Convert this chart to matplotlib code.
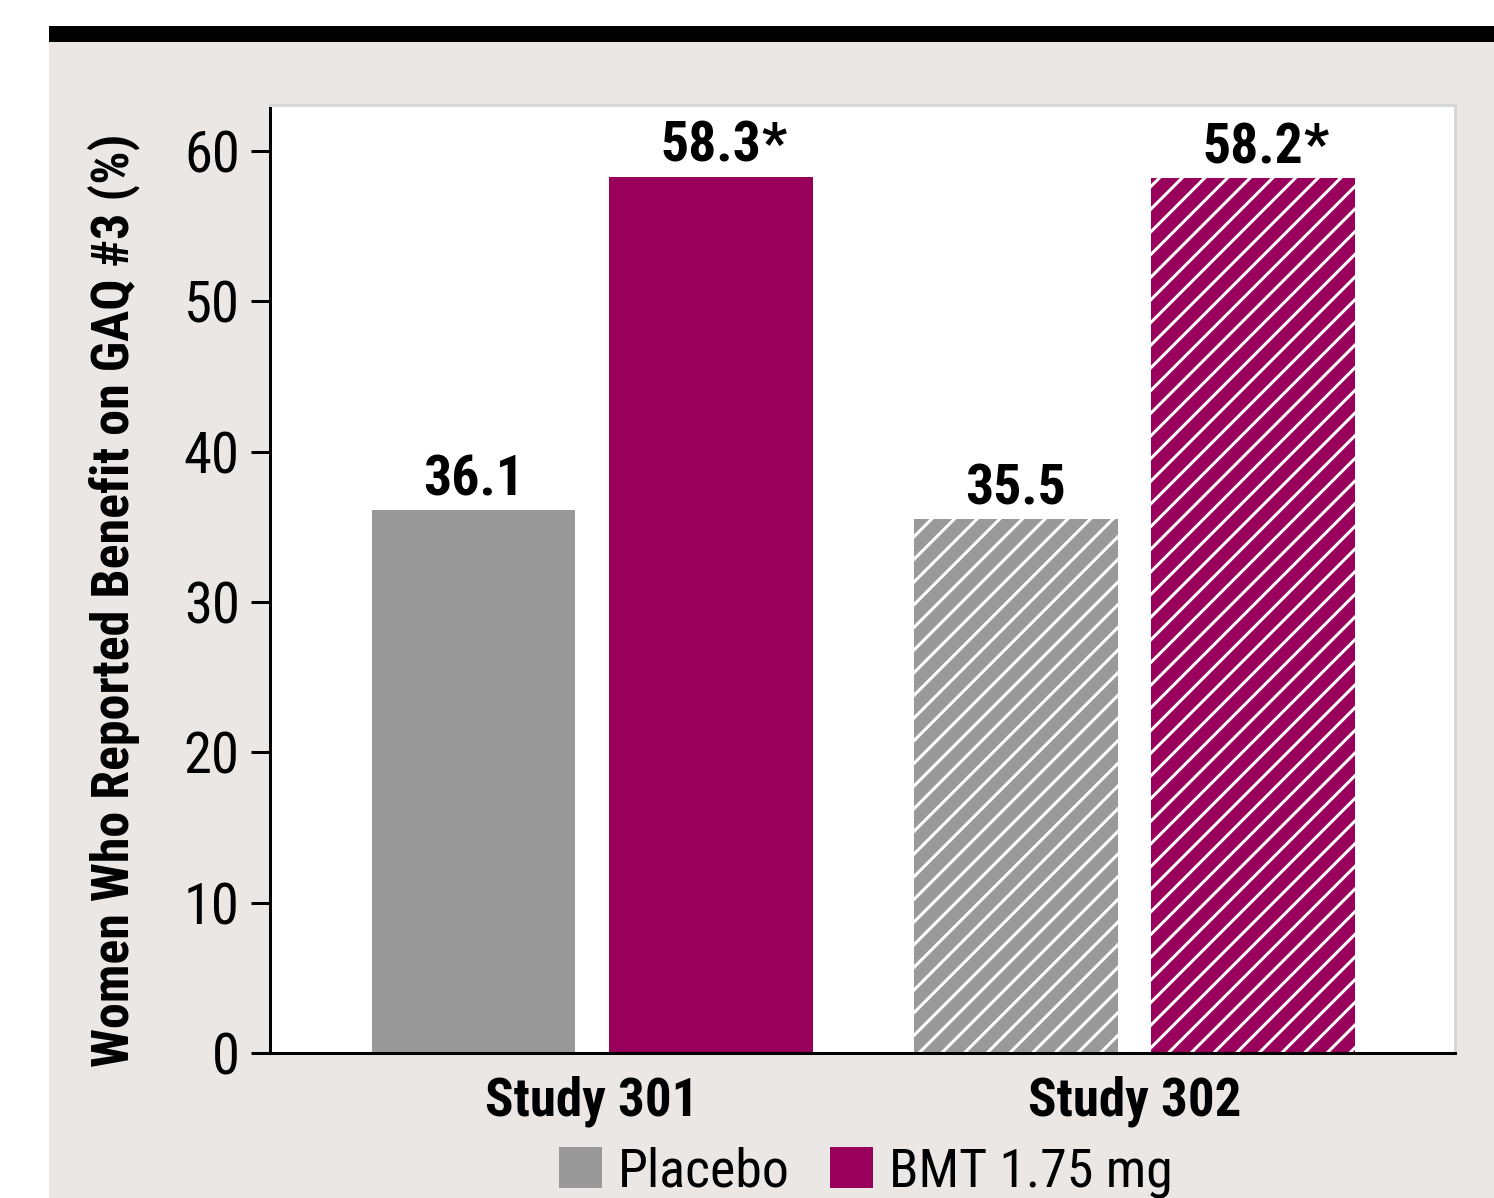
import matplotlib
matplotlib.use("Agg")
import matplotlib.pyplot as plt
from matplotlib.patches import Rectangle, Patch
import numpy as np

# Data
studies = ["Study 301", "Study 302"]
placebo = [36.1, 35.5]
bmt = [58.3, 58.2]
bmt_marks = ["*", "*"]
series_names = ["Placebo", "BMT 1.75 mg"]
yticks = [0, 10, 20, 30, 40, 50, 60]
ylabel = "Women Who Reported Benefit on GAQ #3 (%)"

W, H, DPI = 1494, 1198, 136
GRAY = "#999999"
PLUM = "#98005C"
PANEL = "#EAE7E4"

plt.rcParams["font.family"] = ["Roboto Condensed", "DejaVu Sans"]
plt.rcParams["hatch.linewidth"] = 1.6

fig = plt.figure(figsize=(W / DPI, H / DPI), dpi=DPI, facecolor="white")

# background panel and black rule along its top
fig.add_artist(Rectangle((49 / W, 0), 1 - 49 / W, (H - 42) / H,
                         transform=fig.transFigure, facecolor=PANEL,
                         edgecolor="none", zorder=0))
fig.add_artist(Rectangle((49 / W, (H - 42) / H), 1 - 49 / W, 16 / H,
                         transform=fig.transFigure, facecolor="black",
                         edgecolor="none", zorder=0))

ax = fig.add_axes([270 / W, (H - 1053) / H, (1455 - 270) / W, (1053 - 105) / H])
ax.set_facecolor("white")

x = np.arange(len(studies))
width = 0.376
off = 0.2187
hatches = [None, "//"]

for i in range(len(studies)):
    hb = hatches[i]
    ax.bar(x[i] - off, placebo[i], width, color=GRAY,
           edgecolor="white" if hb else GRAY, linewidth=0, hatch=hb, zorder=2)
    ax.bar(x[i] + off, bmt[i], width, color=PLUM,
           edgecolor="white" if hb else PLUM, linewidth=0, hatch=hb, zorder=2)
    ax.annotate(f"{placebo[i]:.1f}", (x[i] - off, placebo[i]), xytext=(0, 2),
                textcoords="offset points", ha="center", va="bottom",
                fontsize=29.5, fontweight="bold")
    t = ax.annotate(f"{bmt[i]:.1f}", (x[i] + off, bmt[i]), xytext=(0, 2),
                    textcoords="offset points", ha="center", va="bottom",
                    fontsize=29.5, fontweight="bold")
    ax.annotate(bmt_marks[i], xy=(1, 0), xycoords=t, ha="left", va="bottom",
                fontsize=29.5, fontweight="bold")

ax.set_xlim(-0.594, 1.591)
ax.set_ylim(0, 63.07)
ax.set_yticks(yticks)
ax.set_xticks(x)
ax.set_xticklabels(studies, fontsize=28, fontweight="bold")
ax.tick_params(axis="x", length=0, pad=12)
ax.tick_params(axis="y", length=10, width=1.6, direction="out", labelsize=30, pad=6)

for s in ["left", "bottom"]:
    ax.spines[s].set_color("black")
    ax.spines[s].set_linewidth(1.6)
for s in ["top", "right"]:
    ax.spines[s].set_color("#D6D7DB")
    ax.spines[s].set_linewidth(1.6)

ax.set_ylabel(ylabel, fontsize=27.5, fontweight="bold", va="center")
ax.yaxis.set_label_coords(-0.132, 0.478)

handles = [Patch(facecolor=GRAY, edgecolor="none"),
           Patch(facecolor=PLUM, edgecolor="none")]
fig.legend(handles, series_names, loc="lower center",
           bbox_to_anchor=(866 / W, 0), ncol=2, frameon=False,
           fontsize=28.5, handlelength=0.8, handleheight=0.8,
           handletextpad=0.3, columnspacing=0.75, borderpad=0, borderaxespad=0)

fig.savefig("out.png", dpi=DPI, facecolor="white")
